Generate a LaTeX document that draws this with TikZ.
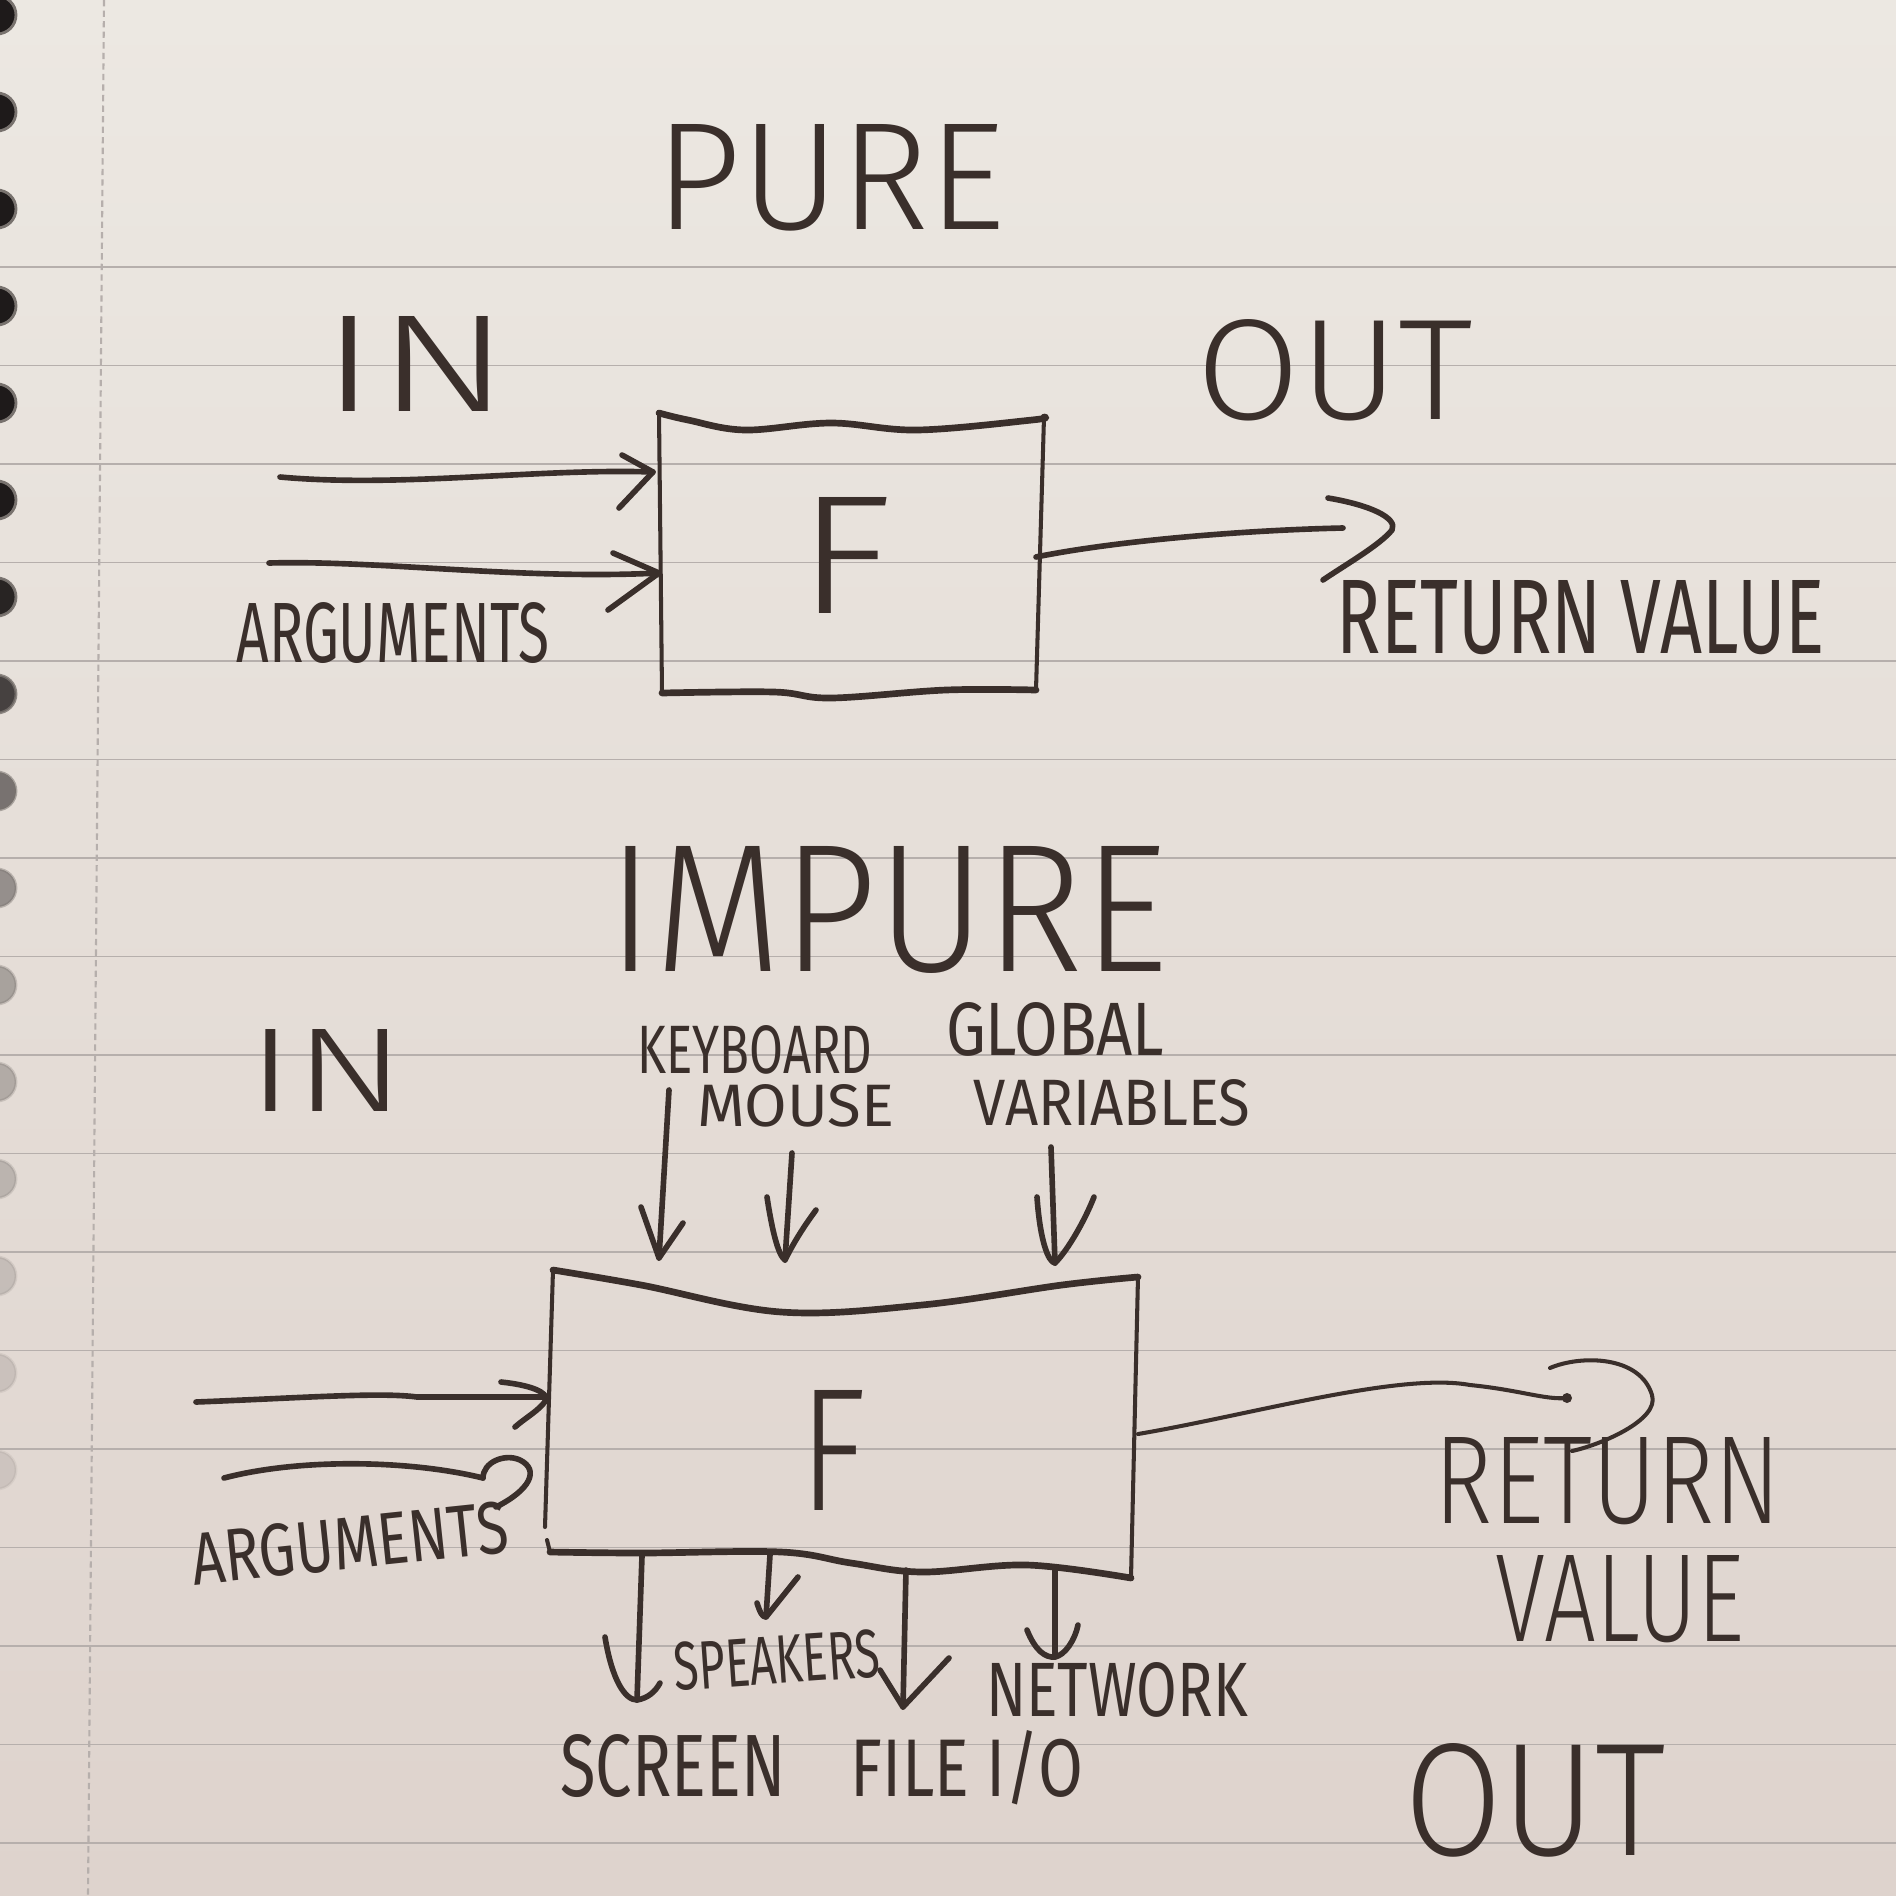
\documentclass[tikz,border=0pt]{standalone}
\usepackage{fontspec}
\usepackage{graphicx}
\usetikzlibrary{calc}
\IfFontExistsTF{Fira Sans Light}{\newfontfamily\hand{Fira Sans Light}}{\newfontfamily\hand{Fira Sans}}
\newfontfamily\handb{Fira Sans}
\definecolor{ink}{RGB}{58,47,43}
\definecolor{papertop}{RGB}{236,232,226}
\definecolor{paperbot}{RGB}{222,211,205}
\definecolor{rulec}{RGB}{182,175,172}
\definecolor{holec}{RGB}{30,26,26}
\definecolor{holerim}{RGB}{120,114,110}
\newlength{\px}\setlength{\px}{0.01cm}
\newcommand{\hwtext}[3]{\resizebox{#1\px}{#2\px}{\hand #3}}
\newcommand{\hwlab}[3]{\resizebox{#1\px}{#2\px}{\handb #3}}
\tikzset{
  lbl/.style={inner sep=0pt, outer sep=0pt, text=ink},
  pen/.style={draw=ink, line width=1.6pt, line cap=round, line join=round},
  thinpen/.style={draw=ink, line width=1.15pt, line cap=round, line join=round},
  boldpen/.style={draw=ink, line width=1.9pt, line cap=round, line join=round},
  ruled/.style={draw=rulec, line width=0.55pt},
}
\begin{document}
\begin{tikzpicture}[x=0.01cm, y=-0.01cm]
\useasboundingbox (0,0) rectangle (1896,1896);
% paper
\shade[top color=papertop, bottom color=paperbot] (0,0) rectangle (1896,1896);
\foreach \k in {0,...,16} \draw[ruled] (0,{267+98.5*\k}) -- (1896,{267+98.5*\k});
\draw[rulec, line width=0.6pt, dash pattern=on 1.8pt off 1.2pt] (104,0) -- (88,1896);
\foreach \k/\o in {0/1,1/1,2/1,3/1,4/1,5/1,6/0.95,7/0.8,8/0.55,9/0.4,10/0.3,11/0.25,12/0.2,13/0.15,14/0.12,15/0.1}
  \filldraw[fill=holec, draw=holerim, line width=0.8pt, opacity=\o] (-3,{15+97*\k}) circle[radius=19];

% ================= PURE =================
\node[lbl] (pure) at (831,178) {\hwtext{350}{105}{PURE}};
\node[lbl] (pin) at (416,364) {\hwtext{188}{95}{IN}};
\node[lbl] (pout) at (1335,370) {\hwtext{277}{100}{OUT}};
\node[lbl] (pF) at (845,555) {\hwtext{95}{116}{F}};
\node[lbl] (pargs) at (393,633) {\hwlab{313}{60}{ARGUMENTS}};
\node[lbl] (pret) at (1581,618) {\hwlab{488}{73}{RETURN VALUE}};

% pure box
\coordinate (pbTL) at (659,413);
\coordinate (pbTR) at (1044,417);
\coordinate (pbBL) at (662,693);
\coordinate (pbBR) at (1036,690);
\draw[thinpen] (pbTL) -- (pbBL);
\draw[thinpen] (pbTR) -- (pbBR);
\draw[boldpen] plot[smooth, tension=0.6] coordinates {(pbTL) (688,420) (745,430) (831,423) (917,430) (1032,420) (pbTR)};
\draw[boldpen] plot[smooth, tension=0.6] coordinates {(pbBL) (774,692) (831,698) (946,690) (pbBR)};

% pure input arrows
\coordinate (pa1s) at (280,477);
\coordinate (pa1e) at (653,472);
\draw[pen] (pa1s) .. controls (400,488) and (540,468) .. (pa1e);
\draw[pen] (622,455) -- (pa1e) -- (619,508);
\coordinate (pa2s) at (269,563);
\coordinate (pa2e) at (659,573);
\draw[pen] (pa2s) .. controls (380,560) and (520,580) .. (pa2e);
\draw[pen] (613,553) -- (pa2e) -- (608,610);

% pure output arrow
\coordinate (pos) at (1036,557);
\coordinate (poe) at (1343,528);
\draw[pen] (pos) .. controls (1120,540) and (1250,530) .. (poe);
\draw[pen] (1328,498) .. controls (1370,505) and (1398,518) .. (1392,530) .. controls (1380,545) and (1345,565) .. (1323,580);

% ================= IMPURE =================
\node[lbl] (impure) at (888,910) {\hwtext{560}{125}{IMPURE}};
\node[lbl] (iin) at (327,1070) {\hwtext{158}{82}{IN}};
\node[lbl] (kbd) at (755,1050) {\hwlab{235}{48}{KEYBOARD}};
\node[lbl] (glob) at (1055,1029) {\hwlab{218}{53}{GLOBAL}};
\node[lbl] (mouse) at (796,1106) {\hwlab{197}{42}{MOUSE}};
\node[lbl] (vars) at (1112,1103) {\hwlab{276}{46}{VARIABLES}};
\node[lbl] (iF) at (833,1450) {\hwtext{67}{120}{F}};
\node[lbl, rotate=6] (iargs) at (350,1543) {\hwlab{318}{52}{ARGUMENTS}};
\node[lbl] (iret) at (1608,1481) {\hwtext{346}{86}{RETURN}};
\node[lbl] (ival) at (1620,1599) {\hwtext{249}{86}{VALUE}};
\node[lbl] (iout) at (1535,1800) {\hwtext{261}{112}{OUT}};
\node[lbl, rotate=4] (spk) at (777,1660) {\hwlab{206}{48}{SPEAKERS}};
\node[lbl] (scr) at (673,1766) {\hwlab{225}{62}{SCREEN}};
\node[lbl] (file) at (967,1768) {\hwlab{232}{66}{FILE I/O}};
\node[lbl] (net) at (1117,1690) {\hwlab{262}{54}{NETWORK}};

% impure box
\coordinate (ibTL) at (553,1270);
\coordinate (ibTR) at (1138,1277);
\coordinate (ibBL) at (550,1552);
\coordinate (ibBR) at (1131,1578);
\draw[thinpen] (ibTL) -- (545,1527);
\draw[thinpen] (547,1540) -- (ibBL);
\draw[thinpen] (ibTR) -- (ibBR);
\draw[boldpen] plot[smooth, tension=0.6] coordinates {(ibTL) (641,1285) (781,1312) (922,1305) (1062,1285) (ibTR)};
\draw[boldpen] plot[smooth, tension=0.6] coordinates {(ibBL) (641,1553) (781,1552) (851,1563) (922,1572) (1027,1565) (ibBR)};

% impure top arrows
\coordinate (kas) at (669,1090);
\coordinate (kae) at (659,1258);
\draw[pen] (kas) -- (kae);
\draw[pen] (641,1207) -- (kae) -- (683,1223);
\coordinate (mas) at (792,1153);
\coordinate (mae) at (785,1260);
\draw[pen] (mas) -- (mae);
\draw[pen] (767,1197) .. controls (772,1230) and (778,1255) .. (mae) .. controls (795,1240) and (805,1225) .. (816,1210);
\coordinate (gas) at (1051,1147);
\coordinate (gae) at (1055,1263);
\draw[pen] (gas) -- (gae);
\draw[pen] (1037,1197) .. controls (1040,1240) and (1048,1262) .. (gae) .. controls (1068,1250) and (1085,1220) .. (1094,1197);

% impure input arrows
\coordinate (ia1s) at (196,1402);
\coordinate (ia1e) at (543,1397);
\draw[pen] (ia1s) .. controls (300,1398) and (380,1392) .. (417,1397) -- (ia1e);
\draw[pen] (501,1382) .. controls (530,1385) and (548,1392) .. (546,1400) .. controls (540,1410) and (525,1418) .. (515,1427);
\coordinate (ia2s) at (224,1478);
\coordinate (ia2e) at (483,1478);
\draw[pen] (ia2s) .. controls (300,1458) and (410,1460) .. (ia2e);
\draw[pen] (ia2e) .. controls (483,1462) and (505,1453) .. (520,1460) .. controls (540,1470) and (530,1490) .. (496,1507);

% impure output arrow
\coordinate (ios) at (1138,1434);
\coordinate (ioe) at (1567,1398);
\draw[thinpen] (ios) .. controls (1250,1415) and (1400,1372) .. (1470,1385) .. controls (1520,1390) and (1545,1400) .. (ioe);
\fill[ink] (ioe) circle[radius=5];
\draw[thinpen] (1550,1368) .. controls (1580,1355) and (1640,1355) .. (1652,1395) .. controls (1660,1420) and (1600,1445) .. (1572,1451);

% impure bottom arrows
\coordinate (sas) at (642,1556);
\coordinate (sae) at (637,1700);
\draw[pen] (sas) -- (sae);
\draw[pen] (605,1637) .. controls (612,1680) and (625,1700) .. (sae) .. controls (648,1698) and (655,1692) .. (660,1683);
\coordinate (pks) at (770,1555);
\coordinate (pke) at (766,1617);
\draw[pen] (pks) -- (pke);
\draw[pen] (757,1603) .. controls (760,1612) and (762,1617) .. (pke) -- (798,1577);
\coordinate (fas) at (906,1570);
\coordinate (fae) at (903,1707);
\draw[pen] (fas) -- (fae);
\draw[pen] (880,1670) -- (fae) -- (949,1658);
\coordinate (nas) at (1055,1567);
\coordinate (nae) at (1055,1657);
\draw[pen] (nas) -- (nae);
\draw[pen] (1027,1630) .. controls (1035,1650) and (1045,1658) .. (nae) .. controls (1065,1655) and (1075,1640) .. (1078,1625);
\end{tikzpicture}
\end{document}
